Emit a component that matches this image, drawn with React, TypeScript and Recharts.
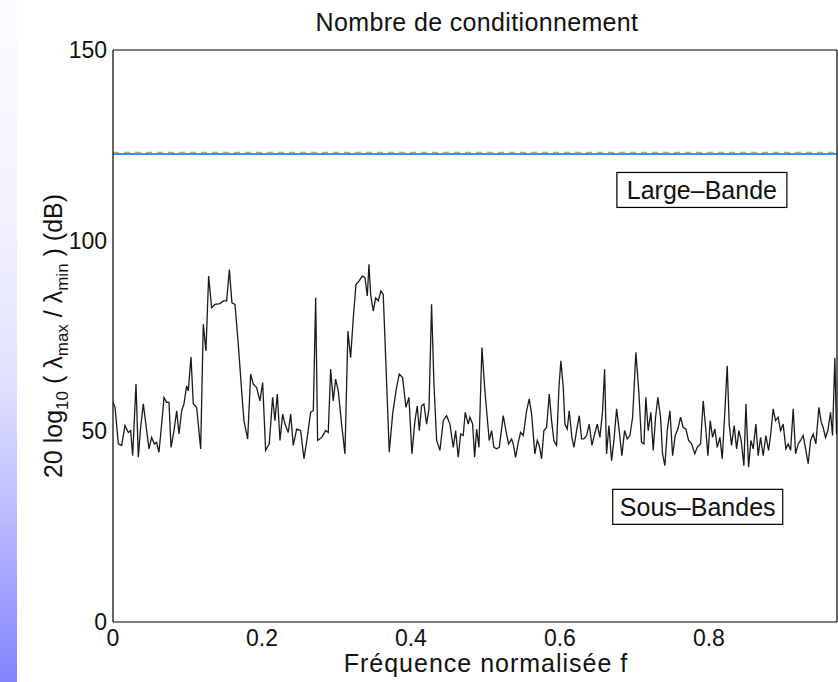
import {
  Line,
  LineChart,
  ReferenceDot,
  XAxis,
  YAxis,
} from 'recharts';

// Normalised frequency (x) and sub-band condition number in dB.
const FREQ = [
  0.0, 0.0027, 0.0072, 0.0116, 0.0161, 0.0206, 0.0237, 0.0264, 0.0309, 0.034,
  0.0371, 0.0407, 0.0452, 0.0483, 0.0519, 0.0555, 0.0586, 0.0617, 0.0653, 0.0685,
  0.072, 0.0752, 0.0779, 0.0819, 0.0855, 0.0886, 0.0922, 0.0953, 0.0989, 0.1011,
  0.1047, 0.1078, 0.1123, 0.1177, 0.1212, 0.1248, 0.1284, 0.1324, 0.1369, 0.1436,
  0.1481, 0.1526, 0.1562, 0.1597, 0.1638, 0.1682, 0.1727, 0.1758, 0.1808, 0.1848,
  0.1883, 0.1928, 0.1973, 0.2009, 0.2049, 0.2098, 0.2143, 0.2174, 0.2206, 0.2242,
  0.2277, 0.2309, 0.2353, 0.2385, 0.242, 0.2466, 0.2519, 0.2564, 0.2608, 0.2653,
  0.2689, 0.2721, 0.2747, 0.2801, 0.2855, 0.289, 0.2922, 0.2957, 0.2989, 0.3024,
  0.3069, 0.3114, 0.3154, 0.319, 0.3226, 0.3262, 0.3302, 0.3347, 0.3383, 0.3414,
  0.3436, 0.3459, 0.3494, 0.3526, 0.3561, 0.3597, 0.3628, 0.3664, 0.3709, 0.3754,
  0.3799, 0.3843, 0.3888, 0.3933, 0.3973, 0.4013, 0.4054, 0.4085, 0.4112, 0.4143,
  0.4174, 0.421, 0.4242, 0.4277, 0.4309, 0.4345, 0.4389, 0.4434, 0.4479, 0.4523,
  0.4568, 0.46, 0.4635, 0.4667, 0.4702, 0.4729, 0.4769, 0.4792, 0.4828, 0.4855,
  0.4882, 0.4913, 0.4953, 0.4993, 0.5024, 0.5051, 0.5083, 0.5114, 0.515, 0.5186,
  0.5239, 0.5275, 0.5311, 0.5351, 0.5373, 0.5405, 0.5441, 0.5472, 0.5508, 0.5553,
  0.5588, 0.562, 0.5664, 0.5696, 0.5722, 0.5754, 0.5785, 0.5821, 0.5857, 0.5888,
  0.5919, 0.5955, 0.5987, 0.6013, 0.6045, 0.6067, 0.6098, 0.6125, 0.6161, 0.6188,
  0.6224, 0.626, 0.6291, 0.6322, 0.6358, 0.6393, 0.643, 0.6466, 0.6501, 0.6537,
  0.6573, 0.66, 0.6626, 0.6658, 0.6694, 0.6725, 0.6761, 0.6796, 0.6832, 0.6868,
  0.6904, 0.694, 0.6976, 0.702, 0.706, 0.7096, 0.7128, 0.7154, 0.7185, 0.7221,
  0.7253, 0.7284, 0.7315, 0.7351, 0.7378, 0.7409, 0.7441, 0.7477, 0.7513, 0.7548,
  0.7584, 0.762, 0.7655, 0.7691, 0.7727, 0.7768, 0.7812, 0.7843, 0.7888, 0.7924,
  0.796, 0.7987, 0.8018, 0.8049, 0.8081, 0.8112, 0.8148, 0.8179, 0.8215, 0.8246,
  0.8273, 0.8304, 0.834, 0.8372, 0.8403, 0.8434, 0.847, 0.8497, 0.8533, 0.8564,
  0.8595, 0.8631, 0.8662, 0.8694, 0.8729, 0.8765, 0.8801, 0.8828, 0.8863, 0.8895,
  0.893, 0.8962, 0.8997, 0.9034, 0.9065, 0.9097, 0.9132, 0.9164, 0.9199, 0.9231,
  0.9266, 0.9302, 0.9333, 0.9365, 0.94, 0.9436, 0.9477, 0.9508, 0.9534, 0.9566,
  0.9597, 0.9633, 0.966, 0.9691, 0.9714,
];

const SUBBAND_DB = [
  57.6, 56.3, 46.7, 46.3, 51.5, 49.7, 50.2, 43.6, 62.4, 43.2,
  51.0, 57.2, 50.2, 45.4, 48.4, 46.7, 47.1, 44.5, 51.9, 58.9,
  57.6, 57.6, 45.8, 50.2, 55.4, 49.3, 55.4, 57.2, 61.9, 60.6,
  69.5, 57.2, 56.3, 45.4, 78.1, 71.1, 90.7, 82.4, 83.3, 83.5,
  84.2, 84.2, 92.4, 83.7, 83.3, 72.8, 60.6, 52.8, 48.0, 65.0,
  62.4, 61.5, 58.0, 62.8, 45.0, 46.7, 58.9, 52.8, 59.8, 47.6,
  54.5, 51.9, 49.7, 54.5, 46.3, 50.6, 50.2, 42.8, 48.4, 55.0,
  55.4, 85.0, 47.6, 48.4, 50.2, 49.7, 66.3, 58.0, 63.7, 60.6,
  51.9, 44.1, 76.3, 69.3, 79.8, 88.5, 89.4, 90.7, 90.3, 85.5,
  93.8, 85.9, 81.5, 85.0, 84.2, 86.8, 85.9, 67.6, 44.5, 54.5,
  60.6, 65.0, 64.1, 56.3, 58.9, 44.1, 52.8, 56.7, 50.2, 56.7,
  57.2, 51.9, 55.9, 83.3, 62.4, 47.6, 45.0, 52.8, 54.1, 51.9,
  45.8, 50.2, 43.2, 49.3, 48.9, 55.0, 51.9, 53.7, 51.9, 43.2,
  50.6, 45.8, 72.0, 60.6, 53.7, 47.6, 50.2, 45.8, 45.4, 45.8,
  54.1, 50.2, 46.7, 48.0, 46.7, 43.2, 47.1, 49.7, 48.9, 55.4,
  58.5, 54.5, 44.1, 47.6, 46.3, 42.8, 50.2, 51.0, 59.8, 52.8,
  47.6, 46.3, 61.5, 68.5, 61.5, 51.9, 50.6, 55.4, 48.4, 45.8,
  50.2, 54.1, 48.0, 48.0, 48.9, 51.9, 46.3, 49.3, 51.9, 48.4,
  55.4, 66.3, 44.1, 51.5, 42.3, 47.6, 55.9, 50.2, 43.6, 50.2,
  48.0, 48.9, 53.7, 70.7, 60.2, 47.1, 46.7, 58.9, 50.2, 55.0,
  45.0, 53.7, 58.9, 53.7, 44.1, 41.0, 50.2, 55.4, 43.6, 48.9,
  50.6, 53.7, 51.0, 50.6, 47.6, 46.7, 44.1, 45.8, 46.7, 58.0,
  50.2, 43.6, 52.8, 48.4, 50.6, 45.8, 48.4, 42.8, 55.4, 67.2,
  51.9, 46.3, 51.5, 45.4, 50.2, 47.6, 41.0, 57.2, 40.6, 47.6,
  45.4, 51.9, 43.6, 48.4, 43.6, 48.9, 45.0, 48.9, 55.9, 52.8,
  53.7, 50.2, 51.9, 45.4, 46.7, 45.0, 55.9, 44.1, 46.7, 47.6,
  48.9, 45.0, 41.5, 47.6, 49.3, 46.7, 56.3, 52.4, 51.0, 48.4,
  50.2, 55.0, 48.9, 69.3, 49.3,
];

// Full-band condition number: flat over the whole band.
const WIDEBAND_F = [0, 0.972];
const WIDEBAND_DB = 122.7;
const WIDEBAND_REF_DB = 123.1;

const X_DOMAIN: [number, number] = [0, 0.972];
const X_TICKS = [0, 0.2, 0.4, 0.6, 0.8];
const Y_DOMAIN: [number, number] = [0, 150];
const Y_TICKS = [0, 50, 100, 150];

const TITLE = 'Nombre de conditionnement';
const X_LABEL = 'Fréquence normalisée f';

const NOTES = [
  { text: 'Large–Bande', f: 0.7906, db: 113.3 },
  { text: 'Sous–Bandes', f: 0.785, db: 30.2 },
];

const FONT = '"Liberation Sans", Arial, Helvetica, sans-serif';
const INK = '#111';

const subbandData = FREQ.map((f, i) => ({ f, db: SUBBAND_DB[i] }));
const widebandData = WIDEBAND_F.map((f) => ({
  f,
  db: WIDEBAND_DB,
  ref: WIDEBAND_REF_DB,
}));

function YAxisTitle({ viewBox }: any) {
  const x = viewBox.x + 62;
  const y = viewBox.y + viewBox.height / 2;
  return (
    <text
      x={x}
      y={y}
      transform={`rotate(-90 ${x} ${y})`}
      textAnchor="middle"
      fontFamily={FONT}
      fontSize={25}
      fill={INK}
    >
      20 log
      <tspan fontSize={17} dy={6}>10</tspan>
      <tspan dy={-6}> ( λ</tspan>
      <tspan fontSize={17} dy={6}>max</tspan>
      <tspan dy={-6}> / λ</tspan>
      <tspan fontSize={17} dy={6}>min</tspan>
      <tspan dy={-6}> ) (dB)</tspan>
    </text>
  );
}

function ChartTitle({ viewBox }: any) {
  const x = viewBox.x + viewBox.width / 2 + 2;
  return (
    <text
      x={x}
      y={viewBox.y - 19}
      textAnchor="middle"
      fontFamily={FONT}
      fontSize={25}
      letterSpacing={0.35}
      fill={INK}
    >
      {TITLE}
    </text>
  );
}

function XAxisTitle({ viewBox }: any) {
  const x = viewBox.x + viewBox.width / 2 + 11;
  return (
    <text
      x={x}
      y={viewBox.y + 50}
      textAnchor="middle"
      fontFamily={FONT}
      fontSize={25}
      letterSpacing={1}
      fill={INK}
    >
      {X_LABEL}
    </text>
  );
}

function BoxedNote({ viewBox, text }: any) {
  const cx = viewBox.x + viewBox.width / 2;
  const cy = viewBox.y + viewBox.height / 2;
  return (
    <g>
      <rect
        x={cx - 85}
        y={cy - 17.5}
        width={170}
        height={35}
        fill="#fff"
        stroke="#000"
        strokeWidth={1.2}
      />
      <text
        x={cx}
        y={cy + 9}
        textAnchor="middle"
        fontFamily={FONT}
        fontSize={25}
        fill={INK}
      >
        {text}
      </text>
    </g>
  );
}

const tickStyle = { fill: INK, fontSize: 23, fontFamily: FONT };
const axisLine = { stroke: '#000', strokeWidth: 1.2 };
const innerTick = { stroke: '#000', strokeWidth: 1 };

export default function App() {
  return (
    <div
      style={{
        position: 'absolute',
        left: 0,
        top: 0,
        width: 838,
        height: 682,
        background: '#fff',
        overflow: 'hidden',
      }}
    >
      <div
        style={{
          position: 'absolute',
          left: 0,
          top: 0,
          width: 17,
          height: 682,
          background:
            'linear-gradient(to bottom, #fbfbff 0%, #f3f3ff 30%, #e2e2ff 55%, #bdbdff 75%, #8282ff 100%)',
        }}
      />
      <LineChart
        width={838}
        height={682}
        margin={{ top: 50, right: 1, bottom: 0, left: 0 }}
        style={{ position: 'absolute', left: 0, top: 0 }}
      >
        {/* outer axes carry the labels, mirrored copies draw the inward ticks and the box */}
        <XAxis
          dataKey="f"
          type="number"
          domain={X_DOMAIN}
          ticks={X_TICKS}
          allowDataOverflow
          height={60}
          tickSize={0}
          tickMargin={8}
          tickLine={false}
          tick={tickStyle}
          axisLine={axisLine}
          label={<XAxisTitle />}
        />
        <XAxis
          xAxisId="bottomTicks"
          mirror
          dataKey="f"
          type="number"
          domain={X_DOMAIN}
          ticks={X_TICKS}
          allowDataOverflow
          height={6}
          tickSize={5}
          tick={false}
          axisLine={false}
          tickLine={innerTick}
        />
        <XAxis
          xAxisId="top"
          orientation="top"
          mirror
          dataKey="f"
          type="number"
          domain={X_DOMAIN}
          ticks={X_TICKS}
          allowDataOverflow
          height={6}
          tickSize={5}
          tick={false}
          axisLine={axisLine}
          tickLine={innerTick}
          label={<ChartTitle />}
        />
        <YAxis
          type="number"
          domain={Y_DOMAIN}
          ticks={Y_TICKS}
          allowDataOverflow
          width={113}
          tickSize={0}
          tickMargin={6}
          tickLine={false}
          tick={tickStyle}
          axisLine={axisLine}
          label={<YAxisTitle />}
        />
        <YAxis
          yAxisId="leftTicks"
          mirror
          type="number"
          domain={Y_DOMAIN}
          ticks={Y_TICKS}
          allowDataOverflow
          width={6}
          tickSize={5}
          tick={false}
          axisLine={false}
          tickLine={innerTick}
        />
        <YAxis
          yAxisId="right"
          orientation="right"
          mirror
          type="number"
          domain={Y_DOMAIN}
          ticks={Y_TICKS}
          allowDataOverflow
          width={6}
          tickSize={5}
          tick={false}
          axisLine={axisLine}
          tickLine={innerTick}
        />
        <Line
          data={widebandData}
          dataKey="ref"
          stroke="#aaaaaa"
          strokeWidth={1.5}
          strokeDasharray="6 5"
          dot={false}
          isAnimationActive={false}
        />
        <Line
          data={widebandData}
          dataKey="db"
          stroke="#3a93f0"
          strokeWidth={2}
          dot={false}
          isAnimationActive={false}
        />
        <Line
          data={subbandData}
          dataKey="db"
          stroke="#1a1a1a"
          strokeWidth={1.3}
          dot={false}
          isAnimationActive={false}
        />
        {NOTES.map((n) => (
          <ReferenceDot
            key={n.text}
            x={n.f}
            y={n.db}
            r={1}
            fill="none"
            stroke="none"
            label={<BoxedNote text={n.text} />}
          />
        ))}
      </LineChart>
    </div>
  );
}
